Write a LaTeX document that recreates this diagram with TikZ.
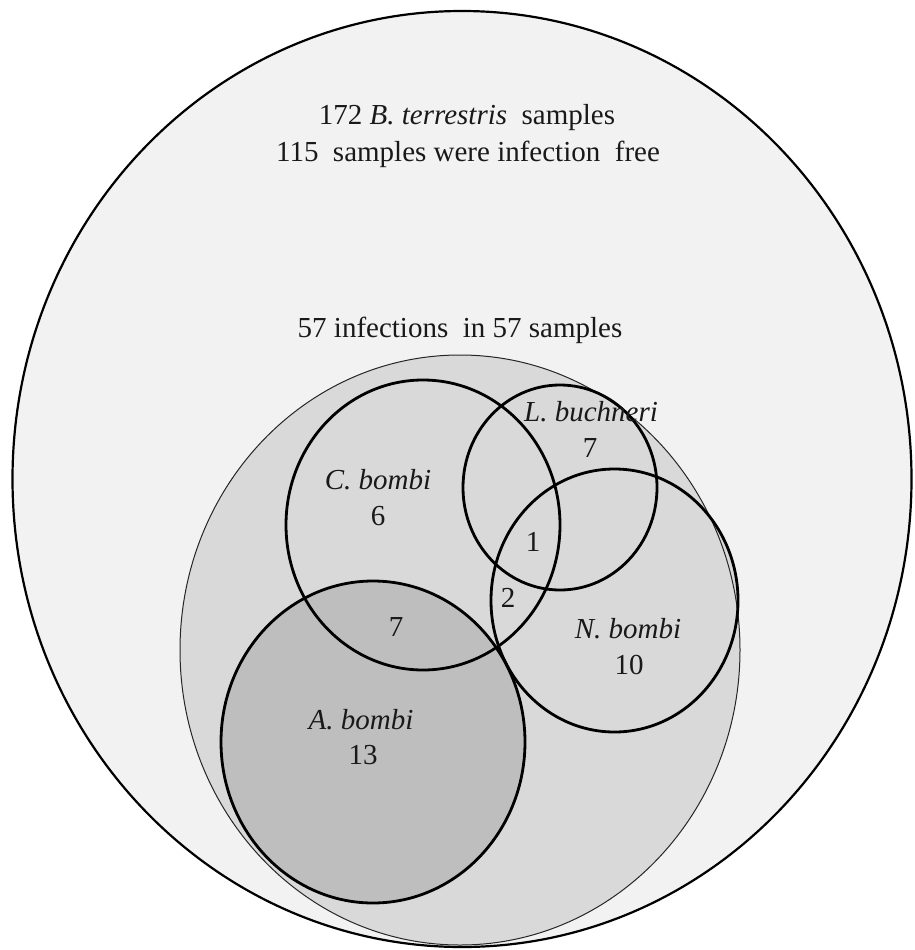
\documentclass[tikz,border=0pt]{standalone}
\usepackage{fontspec}
\setmainfont{Liberation Serif}
\newfontfamily\tnrfont{Liberation Serif}
\begin{document}
\begin{tikzpicture}[x=1pt,y=-1pt,
  lbl/.style={anchor=base,inner sep=0pt,font=\tnrfont\fontsize{29}{34}\selectfont,text=black!90},
  species/.style={draw=black,line width=2.8pt}]
\definecolor{outergray}{HTML}{F2F2F2}
\definecolor{innergray}{HTML}{D9D9D9}
\definecolor{agray}{HTML}{BEBEBE}
\useasboundingbox[fill=white] (0,0) rectangle (915,950);
% fills
\fill[outergray] (462,479) ellipse [x radius=449.5pt, y radius=468pt];
\fill[innergray] (460,650) ellipse [x radius=280pt, y radius=295pt];
\fill[innergray] (423,525) ellipse [x radius=137pt, y radius=145pt];
\fill[innergray] (560,487.5) ellipse [x radius=97pt, y radius=102.5pt];
\fill[innergray] (614.5,600.5) ellipse [x radius=123.5pt, y radius=131.5pt];
\fill[agray] (373,742) ellipse [x radius=152pt, y radius=161pt];
% outlines
\draw[line width=2.2pt] (462,479) ellipse [x radius=449.5pt, y radius=468pt];
\draw[line width=1pt, draw=black!85] (460,650) ellipse [x radius=280pt, y radius=295pt];
\draw[species] (373,742) ellipse [x radius=152pt, y radius=161pt];
\draw[species] (423,525) ellipse [x radius=137pt, y radius=145pt];
\draw[species] (560,487.5) ellipse [x radius=97pt, y radius=102.5pt];
\draw[species] (614.5,600.5) ellipse [x radius=123.5pt, y radius=131.5pt];
% texts
\node[lbl] (t1) at (467,124) {172 \textit{B. terrestris}\ \ samples};
\node[lbl] (t2) at (468,161.5) {115\ \ samples were infection\ \ free};
\node[lbl] (t3) at (460,337) {57 infections\ \ in 57 samples};
\node[lbl] (cb) at (378,489) {\textit{C. bombi}};
\node[lbl] (cbn) at (378,525) {6};
\node[lbl] (lb) at (591,421) {\textit{L. buchneri}};
\node[lbl] (lbn) at (590,457) {7};
\node[lbl] (one) at (533,551) {1};
\node[lbl] (two) at (508,607) {2};
\node[lbl] (ca) at (396,636) {7};
\node[lbl] (nb) at (628,638) {\textit{N. bombi}};
\node[lbl] (nbn) at (629,674) {10};
\node[lbl] (ab) at (361,729) {\textit{A. bombi}};
\node[lbl] (abn) at (363,764) {13};
\end{tikzpicture}
\end{document}
